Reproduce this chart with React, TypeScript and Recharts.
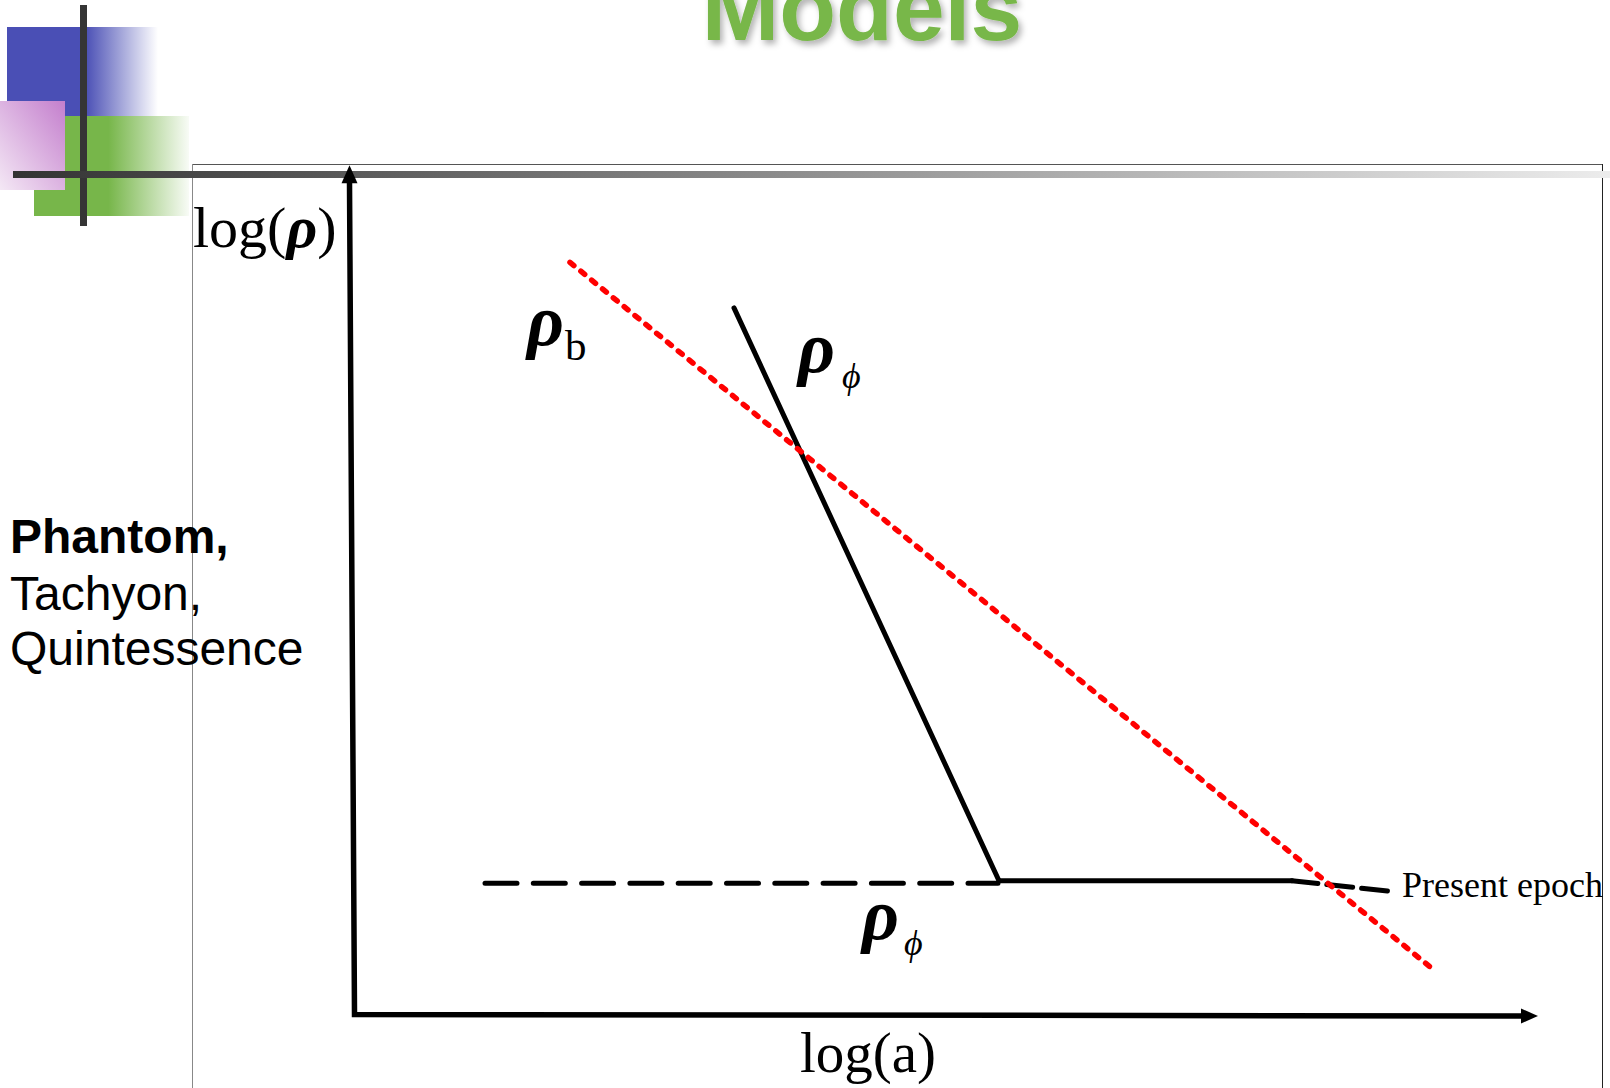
import { LineChart, Line, XAxis, YAxis, ReferenceDot } from "recharts";

// chart units: log(a) runs 0..12, log(rho) 0..10
const X_DOMAIN: [number, number] = [0, 12];
const Y_DOMAIN: [number, number] = [0, 10];

type Pt = { x: number; y: number };

// background (matter/radiation) density, red dotted
const RHO_B: Pt[] = [
  { x: 2.3, y: 8.81 },
  { x: 10.95, y: 0.57 },
];
// scalar field: fast fall, then frozen, then today's tilt
const RHO_PHI_FALL: Pt[] = [
  { x: 3.94, y: 8.28 },
  { x: 6.59, y: 1.62 },
];
const RHO_PHI_FROZEN: Pt[] = [
  { x: 6.59, y: 1.62 },
  { x: 9.52, y: 1.62 },
];
const RHO_PHI_TODAY: Pt[] = [
  { x: 9.52, y: 1.62 },
  { x: 10.48, y: 1.5 },
];
const RHO_PHI_CONST: Pt[] = [
  { x: 1.45, y: 1.59 },
  { x: 6.58, y: 1.59 },
];
// the drawn axes: top of y arrow, origin, end of x arrow
const AXES: Pt[] = [
  { x: 0.095, y: 9.74 },
  { x: 0.145, y: 0.064 },
  { x: 11.82, y: 0.047 },
];

const SERIF = '"Liberation Serif", "Times New Roman", "DejaVu Serif", serif';
const SANS = '"Liberation Sans", Arial, sans-serif';

type Part = {
  t: string;
  size: number;
  bold?: boolean;
  italic?: boolean;
  dx?: number;
  dy?: number;
};
type Lbl = { x: number; y: number; parts: Part[] };

const LABELS: Lbl[] = [
  {
    x: -1.47,
    y: 8.99,
    parts: [
      { t: "log(", size: 58 },
      { t: "ρ", size: 60, italic: true, bold: true },
      { t: ")", size: 58 },
    ],
  },
  { x: 4.6, y: -0.605, parts: [{ t: "log(a)", size: 57 }] },
  {
    x: 1.87,
    y: 7.85,
    parts: [
      { t: "ρ", size: 72, bold: true, italic: true },
      { t: "b", size: 43, dx: 38, dy: 15 },
    ],
  },
  {
    x: 4.58,
    y: 7.53,
    parts: [
      { t: "ρ", size: 72, bold: true, italic: true },
      { t: "ϕ", size: 36, italic: true, dx: 44, dy: 16 },
    ],
  },
  {
    x: 5.22,
    y: 0.94,
    parts: [
      { t: "ρ", size: 72, bold: true, italic: true },
      { t: "ϕ", size: 36, italic: true, dx: 42, dy: 16 },
    ],
  },
  { x: 10.62, y: 1.43, parts: [{ t: "Present epoch", size: 36 }] },
];

function labelShape(parts: Part[]) {
  return (p: any) => (
    <text fontFamily={SERIF} fill="#000">
      {parts.map((part, i) => (
        <tspan
          key={i}
          x={i === 0 || part.dx !== undefined ? p.cx + (part.dx ?? 0) : undefined}
          y={i === 0 || part.dy !== undefined ? p.cy + (part.dy ?? 0) : undefined}
          fontSize={part.size}
          fontWeight={part.bold ? "bold" : "normal"}
          fontStyle={part.italic ? "italic" : "normal"}
        >
          {part.t}
        </tspan>
      ))}
    </text>
  );
}

function axisArrow(props: any) {
  const { cx, cy, index } = props;
  if (index === 0) {
    return (
      <polygon
        key="arrow-up"
        points={`${cx},${cy - 17} ${cx - 8},${cy + 1} ${cx + 8},${cy + 1}`}
        fill="#000"
      />
    );
  }
  if (index === AXES.length - 1) {
    return (
      <polygon
        key="arrow-right"
        points={`${cx + 16},${cy} ${cx - 1},${cy - 7.5} ${cx - 1},${cy + 7.5}`}
        fill="#000"
      />
    );
  }
  return <g key={`ax-${index}`} />;
}

function Backdrop() {
  return (
    <svg width={1610} height={1088} style={{ position: "absolute", left: 0, top: 0 }}>
      <defs>
        <linearGradient id="blueFade" x1="0" y1="0" x2="1" y2="0">
          <stop offset="0%" stopColor="#4a4fb5" />
          <stop offset="52%" stopColor="#4a4fb5" />
          <stop offset="100%" stopColor="#4a4fb5" stopOpacity={0} />
        </linearGradient>
        <linearGradient id="greenFade" x1="0" y1="0" x2="1" y2="0">
          <stop offset="0%" stopColor="#77b64a" />
          <stop offset="48%" stopColor="#77b64a" />
          <stop offset="100%" stopColor="#77b64a" stopOpacity={0.05} />
        </linearGradient>
        <linearGradient id="pinkFade" x1="1" y1="0" x2="0" y2="1">
          <stop offset="0%" stopColor="#c47fcd" />
          <stop offset="100%" stopColor="#f4e8f5" />
        </linearGradient>
        <linearGradient id="barFade" x1="0" y1="0" x2="1" y2="0">
          <stop offset="0%" stopColor="#333333" />
          <stop offset="100%" stopColor="#ececec" />
        </linearGradient>
        <filter id="titleShadow" x="-10%" y="-50%" width="120%" height="200%">
          <feDropShadow dx="3" dy="4" stdDeviation="3" floodColor="#000" floodOpacity="0.3" />
        </filter>
      </defs>

      <rect x={7} y={27} width={151} height={89} fill="url(#blueFade)" />
      <rect x={34} y={116} width={155} height={100} fill="url(#greenFade)" />
      <rect x={0} y={101} width={65} height={89} fill="url(#pinkFade)" />

      {/* frame */}
      <line x1={192} y1={164.5} x2={1602.5} y2={164.5} stroke="#555" strokeWidth={1} />
      <line x1={192.5} y1={164} x2={192.5} y2={1088} stroke="#888" strokeWidth={1} />
      <line x1={1602.5} y1={164} x2={1602.5} y2={1088} stroke="#222" strokeWidth={1} />

      <rect x={80} y={5} width={7} height={221} fill="#353535" />
      <rect x={13} y={171} width={1597} height={7} fill="url(#barFade)" />

      <text
        x={862}
        y={40}
        textAnchor="middle"
        fontFamily={SANS}
        fontWeight="bold"
        fontSize={93}
        fill="#78b74a"
        filter="url(#titleShadow)"
      >
        Models
      </text>

      <text fontFamily={SANS} fontSize={48} fill="#000">
        <tspan x={10} y={553} fontWeight="bold">
          Phantom,
        </tspan>
        <tspan x={10} y={610}>
          Tachyon,
        </tspan>
        <tspan x={10} y={665}>
          Quintessence
        </tspan>
      </text>
    </svg>
  );
}

export default function App() {
  return (
    <div
      style={{
        position: "absolute",
        left: 0,
        top: 0,
        width: 1610,
        height: 1088,
        overflow: "hidden",
        background: "#fff",
      }}
    >
      <Backdrop />
      <div style={{ position: "absolute", left: 0, top: 0 }}>
        <LineChart
          width={1610}
          height={1088}
          margin={{ top: 160, right: 70, bottom: 68, left: 340 }}
        >
          <XAxis type="number" dataKey="x" domain={X_DOMAIN} hide />
          <YAxis type="number" dataKey="y" domain={Y_DOMAIN} hide />

          <Line
            data={AXES}
            dataKey="y"
            type="linear"
            stroke="#000"
            strokeWidth={5.5}
            strokeLinejoin="miter"
            dot={axisArrow}
            activeDot={false}
            isAnimationActive={false}
          />
          <Line
            data={RHO_PHI_CONST}
            dataKey="y"
            type="linear"
            stroke="#000"
            strokeWidth={5}
            strokeDasharray="32 16.3"
            strokeLinecap="round"
            dot={false}
            activeDot={false}
            isAnimationActive={false}
          />
          <Line
            data={RHO_PHI_FALL}
            dataKey="y"
            type="linear"
            stroke="#000"
            strokeWidth={5}
            strokeLinecap="round"
            dot={false}
            activeDot={false}
            isAnimationActive={false}
          />
          <Line
            data={RHO_PHI_FROZEN}
            dataKey="y"
            type="linear"
            stroke="#000"
            strokeWidth={5}
            strokeLinecap="round"
            dot={false}
            activeDot={false}
            isAnimationActive={false}
          />
          <Line
            data={RHO_PHI_TODAY}
            dataKey="y"
            type="linear"
            stroke="#000"
            strokeWidth={5}
            strokeDasharray="26 9"
            strokeLinecap="round"
            dot={false}
            activeDot={false}
            isAnimationActive={false}
          />
          <Line
            data={RHO_B}
            dataKey="y"
            type="linear"
            stroke="#ff0000"
            strokeWidth={5.5}
            strokeDasharray="5 9"
            strokeLinecap="round"
            dot={false}
            activeDot={false}
            isAnimationActive={false}
          />

          {LABELS.map((l, i) => (
            <ReferenceDot
              key={i}
              x={l.x}
              y={l.y}
              r={0}
              ifOverflow="visible"
              shape={labelShape(l.parts)}
            />
          ))}
        </LineChart>
      </div>
    </div>
  );
}
